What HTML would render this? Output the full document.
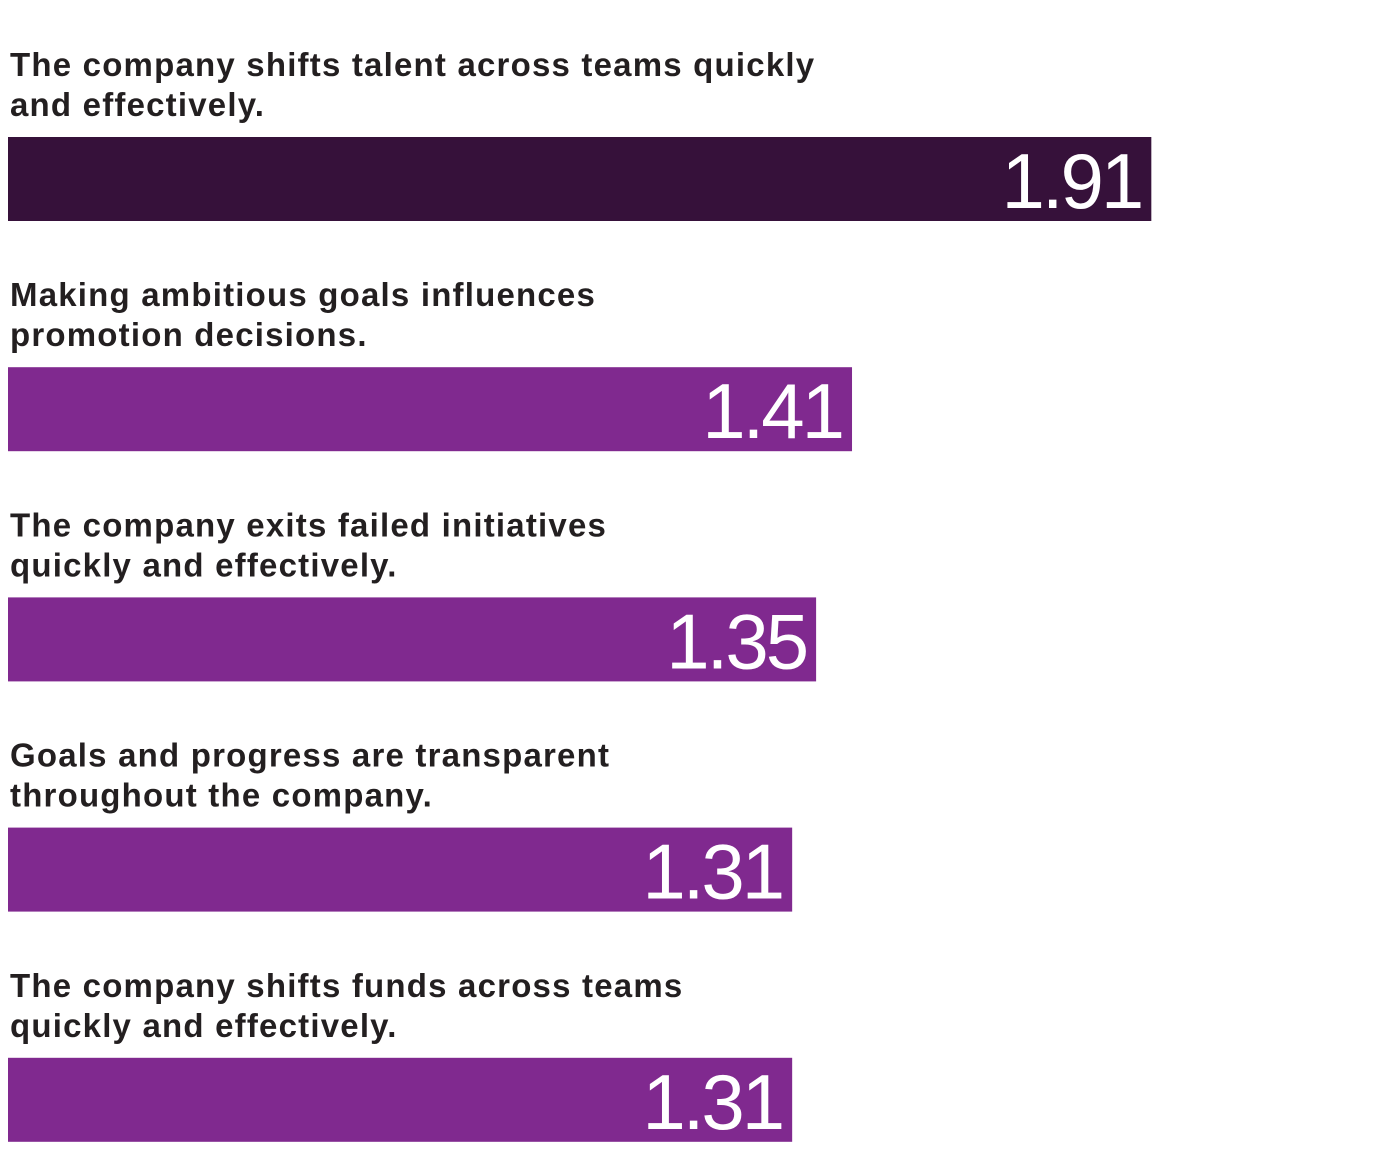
<!DOCTYPE html>
<html><head><meta charset="utf-8"><style>
html,body{margin:0;padding:0;background:#fff;width:1400px;height:1164px;overflow:hidden}
svg{display:block}
.lbl{font-family:"Liberation Sans",sans-serif;font-weight:bold;font-size:33px;letter-spacing:1.2px;fill:#231f20}
.val{font-family:"Liberation Sans",sans-serif;font-size:78px;fill:#fff;letter-spacing:-3px}
</style></head><body>
<svg id="chart" width="1400" height="1164" xmlns="http://www.w3.org/2000/svg"></svg>
<script>
const categories = [
  ["The company shifts talent across teams quickly","and effectively."],
  ["Making ambitious goals influences","promotion decisions."],
  ["The company exits failed initiatives","quickly and effectively."],
  ["Goals and progress are transparent","throughout the company."],
  ["The company shifts funds across teams","quickly and effectively."]
];
const values = [1.91, 1.41, 1.35, 1.31, 1.31];
const valueLabels = ["1.91","1.41","1.35","1.31","1.31"];

const svg = document.getElementById('chart');
const NS = 'http://www.w3.org/2000/svg';
const x0 = 8, pxPerUnit = 598.6;
const xScale = v => v * pxPerUnit;
const yTop = i => 137 + i * 230.2;
const barH = 84;

values.forEach((v, i) => {
  const g = document.createElementNS(NS, 'g');
  
  
  const top = yTop(i);
  categories[i].forEach((line, j) => {
    const t = document.createElementNS(NS, 'text');
    
    
    t.setAttribute('class', 'lbl');
    t.setAttribute('x', 10);
    t.setAttribute('y', top - 61 + j * 40);
    t.textContent = line;
    g.appendChild(t);
  });
  const r = document.createElementNS(NS, 'rect');
  
  
  r.setAttribute('x', x0);
  r.setAttribute('y', top);
  r.setAttribute('width', xScale(v));
  r.setAttribute('height', barH);
  r.setAttribute('fill', i === 0 ? '#36113a' : '#80298f');
  g.appendChild(r);
  const vt = document.createElementNS(NS, 'text');
  
  
  vt.setAttribute('class', 'val');
  vt.setAttribute('x', x0 + xScale(v) - 10);
  vt.setAttribute('y', top + 71);
  vt.setAttribute('text-anchor', 'end');
  vt.textContent = valueLabels[i];
  g.appendChild(vt);
  svg.appendChild(g);
});
</script>
</body></html>
